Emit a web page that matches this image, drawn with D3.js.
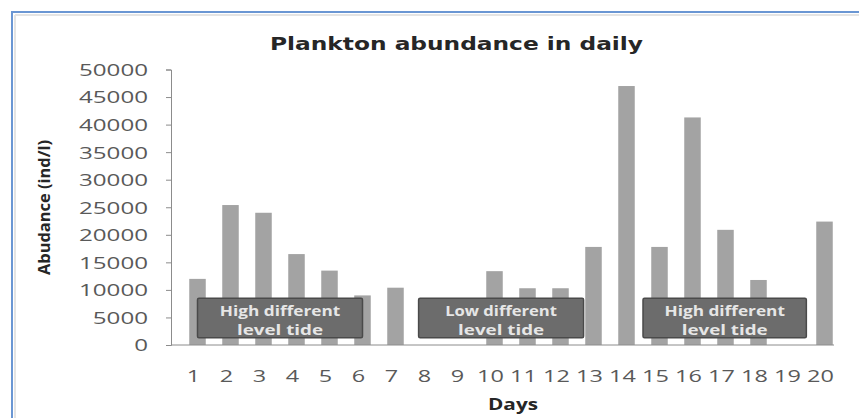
<!DOCTYPE html>
<html><head><meta charset="utf-8">
<script src="https://cdn.jsdelivr.net/npm/d3@7"></script>
<style>html,body{margin:0;padding:0;background:#fff;} svg{display:block;}</style>
</head><body><svg id="c" width="859" height="418"></svg>
<script>
// ---- data ----
const days = [1,2,3,4,5,6,7,8,9,10,11,12,13,14,15,16,17,18,19,20];
const abundance = [12000,25400,24000,16500,13500,9000,10400,null,null,13400,10300,10300,17800,47000,17800,41300,20900,11800,null,22400];
const yTicks = [0,5000,10000,15000,20000,25000,30000,35000,40000,45000,50000];
const annotations = [
  {from:1.0, to:6.0, lo:1300, hi:8500, lines:["High different","level tide"]},
  {from:7.7, to:12.7, lo:1300, hi:8500, lines:["Low different","level tide"]},
  {from:14.5, to:19.45, lo:1300, hi:8500, lines:["High different","level tide"]}
];
const title = "Plankton abundance in daily";
const xTitle = "Days";
const yTitle = "Abudance (ind/l)";

// ---- layout ----
const svg = d3.select("#c");
const plot = {left:171, right:834, top:69.5, bottom:345};
const x = d3.scaleBand().domain(days).range([181, 841]).paddingInner(0.5).paddingOuter(0.25);
const dayPos = d3.scaleLinear().domain([1,20]).range([x(1)+x.bandwidth()/2, x(20)+x.bandwidth()/2]);
const y = d3.scaleLinear().domain([0,50000]).range([plot.bottom, plot.top]);

// frame
svg.append("rect").attr("x",0).attr("y",0).attr("width",859).attr("height",418).attr("fill","#fff");
svg.append("line").attr("x1",15).attr("x2",859).attr("y1",15).attr("y2",15).attr("stroke","#e4e4e4").attr("stroke-width",2);
svg.append("line").attr("x1",15).attr("x2",15).attr("y1",15).attr("y2",418).attr("stroke","#e4e4e4").attr("stroke-width",2);
svg.append("line").attr("x1",12).attr("x2",859).attr("y1",12).attr("y2",12).attr("stroke","#6a96d3").attr("stroke-width",2);
svg.append("line").attr("x1",12).attr("x2",12).attr("y1",11).attr("y2",418).attr("stroke","#6a96d3").attr("stroke-width",2);

// title
svg.append("text").attr("x",456.5).attr("y",50).attr("text-anchor","middle")
  .attr("font-family","DejaVu Sans").attr("font-weight","bold").attr("font-size",18)
  .attr("fill","#262626").attr("textLength",373).attr("lengthAdjust","spacingAndGlyphs").text(title);

// y axis
const yAxis = d3.axisLeft(y).tickValues(yTicks).tickSize(5).tickPadding(0).tickFormat(d=>d);
const gy = svg.append("g").attr("transform",`translate(${plot.left},0)`).call(yAxis);
gy.select(".domain").attr("stroke","#8c8c8c");
gy.selectAll(".tick line").attr("stroke","#8c8c8c");
gy.selectAll(".tick text").attr("x",-23).attr("dy","0.37em")
  .attr("font-family","Open Sans").attr("font-size",16).attr("fill","#595959")
  .attr("textLength",d=>String(d).length*13.8).attr("lengthAdjust","spacingAndGlyphs");

// bars
svg.append("g").selectAll("rect").data(days.map((d,i)=>({d, v:abundance[i]})).filter(o=>o.v!=null))
  .join("rect")
  .attr("x",o=>x(o.d)).attr("width",x.bandwidth())
  .attr("y",o=>y(o.v)).attr("height",o=>y(0)-y(o.v))
  .attr("fill","#a3a3a3");

// x axis
svg.append("line").attr("x1",plot.left).attr("x2",plot.right).attr("y1",plot.bottom).attr("y2",plot.bottom)
  .attr("stroke","#8c8c8c");
const xAxis = d3.axisBottom(x).tickSize(0).tickPadding(0);
const gx = svg.append("g").attr("transform",`translate(-4,${plot.bottom})`).call(xAxis);
gx.select(".domain").remove();
gx.selectAll(".tick text").attr("y",37).attr("dy",0)
  .attr("font-family","Open Sans").attr("font-size",16).attr("fill","#595959")
  .attr("textLength",d=>String(d).length*13.4).attr("lengthAdjust","spacingAndGlyphs");

// annotation boxes
const ann = svg.append("g").selectAll("g").data(annotations).join("g");
ann.append("rect")
  .attr("x",a=>dayPos(a.from)).attr("width",a=>dayPos(a.to)-dayPos(a.from))
  .attr("y",a=>y(a.hi)).attr("height",a=>y(a.lo)-y(a.hi))
  .attr("fill","#6c6c6c").attr("stroke","#4a4a4a").attr("stroke-width",1.5).attr("rx",1.5);
ann.each(function(a){
  const g = d3.select(this);
  const cx = (dayPos(a.from)+dayPos(a.to))/2;
  a.lines.forEach((t,i)=>{
    g.append("text").attr("x",cx).attr("y",y(a.hi)+18+i*18.5).attr("text-anchor","middle")
      .attr("font-family","Open Sans").attr("font-weight","bold").attr("font-size",14.5)
      .attr("fill","#e6e6e6").attr("textLength",t.length*8.6).attr("lengthAdjust","spacingAndGlyphs").text(t);
  });
});

// axis titles
svg.append("text").attr("x",513).attr("y",410).attr("text-anchor","middle")
  .attr("font-family","Open Sans").attr("font-weight","bold").attr("font-size",16)
  .attr("fill","#262626").attr("textLength",50).attr("lengthAdjust","spacingAndGlyphs").text(xTitle);
svg.append("text").attr("transform","translate(50,207.5) rotate(-90)").attr("text-anchor","middle")
  .attr("font-family","Open Sans").attr("font-weight","bold").attr("font-size",16)
  .attr("fill","#262626").attr("textLength",135).attr("lengthAdjust","spacingAndGlyphs").text(yTitle);
</script></body></html>
